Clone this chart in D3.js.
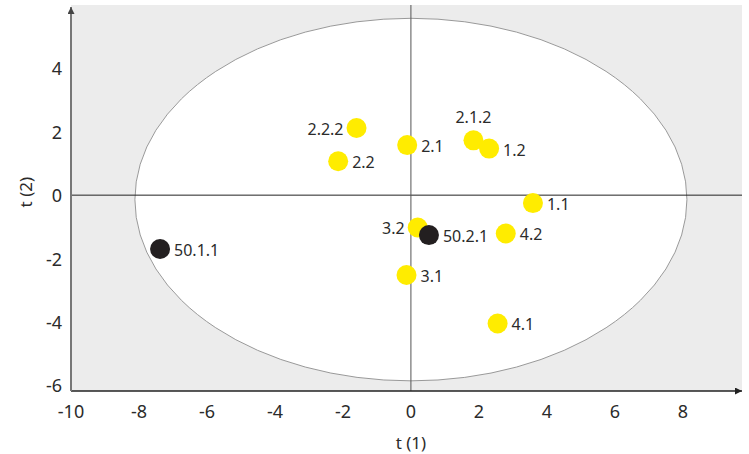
<!DOCTYPE html>
<html>
<head>
<meta charset="utf-8">
<script src="https://cdn.jsdelivr.net/npm/d3@7"></script>
<style>
  body { margin: 0; background: #fff; }
  text { font-family: "Noto Sans", "Open Sans", sans-serif; fill: #2b2b2b; }
</style>
</head>
<body>
<div id="chart"></div>
<script>
const width = 749
const height = 454

// score plot data
const names = ["2.2.2", "2.2", "2.1", "2.1.2", "1.2", "1.1", "3.2", "50.2.1", "4.2", "3.1", "4.1", "50.1.1"]
const t1 = [-1.6, -2.14, -0.11, 1.84, 2.30, 3.59, 0.2, 0.53, 2.79, -0.13, 2.55, -7.38]
const t2 = [2.12, 1.07, 1.58, 1.73, 1.47, -0.25, -1.02, -1.26, -1.21, -2.52, -4.05, -1.70]
const groups = ["s", "s", "s", "s", "s", "s", "s", "c", "s", "s", "s", "c"]
const labelSide = ["left", "right", "right", "top", "right", "right", "left", "right", "right", "right", "right", "right"]

const xTicks = [-10, -8, -6, -4, -2, 0, 2, 4, 6, 8]
const yTicks = [-6, -4, -2, 0, 2, 4]

// Hotelling ellipse
const ellipse = { cx: 0, cy: -0.14, rx: 8.12, ry: 5.72 }

const margin = { left: 71, right: 7, top: 5, bottom: 63 }

const x = d3.scaleLinear().domain([-10, 9.74]).range([margin.left, width - margin.right])
const y = d3.scaleLinear().domain([-6.18, 6]).range([height - margin.bottom, margin.top])

const svg = d3.select("#chart").append("svg").attr("width", width).attr("height", height)

const defs = svg.append("defs")
defs.append("marker").attr("id", "arrowX").attr("viewBox", "0 0 10 10")
    .attr("refX", 10).attr("refY", 5).attr("markerWidth", 10).attr("markerHeight", 7)
    .attr("markerUnits", "userSpaceOnUse").attr("orient", "auto")
    .append("path").attr("d", "M0,0L10,5L0,10Z").attr("fill", "#222")
defs.append("marker").attr("id", "arrowY").attr("viewBox", "0 0 10 10")
    .attr("refX", 10).attr("refY", 5).attr("markerWidth", 12).attr("markerHeight", 7)
    .attr("markerUnits", "userSpaceOnUse").attr("orient", "auto")
    .append("path").attr("d", "M0,0L10,5L0,10Z").attr("fill", "#444")

// background
svg.append("rect")
    .attr("x", x(-10)).attr("y", y(6))
    .attr("width", x(9.74) - x(-10)).attr("height", y(-6.18) - y(6))
    .attr("fill", "#ececec")

svg.append("ellipse")
    .attr("cx", x(ellipse.cx)).attr("cy", y(ellipse.cy))
    .attr("rx", x(ellipse.rx) - x(0)).attr("ry", y(0) - y(ellipse.ry))
    .attr("fill", "#fff").attr("stroke", "#999").attr("stroke-width", 1)

// zero lines
svg.append("line")
    .attr("x1", x(-10)).attr("x2", x(9.74)).attr("y1", y(0)).attr("y2", y(0))
    .attr("stroke", "#222").attr("stroke-width", 1)
svg.append("line")
    .attr("x1", x(0)).attr("x2", x(0)).attr("y1", y(6)).attr("y2", y(-6.18))
    .attr("stroke", "#555").attr("stroke-width", 1)

// axes
svg.append("line")
    .attr("x1", x(-10)).attr("x2", x(9.74)).attr("y1", y(-6.18)).attr("y2", y(-6.18))
    .attr("stroke", "#222").attr("stroke-width", 1.5)
    .attr("marker-end", "url(#arrowX)")
svg.append("line")
    .attr("x1", x(-10)).attr("x2", x(-10)).attr("y1", y(-6.18)).attr("y2", y(6) + 2)
    .attr("stroke", "#777").attr("stroke-width", 2)
    .attr("marker-end", "url(#arrowY)")

svg.selectAll(".xt").data(xTicks).join("text")
    .attr("class", "xt")
    .attr("x", d => x(d)).attr("y", 411)
    .attr("text-anchor", "middle").attr("dominant-baseline", "central")
    .style("font-size", "18px")
    .text(d => d)

svg.selectAll(".yt").data(yTicks).join("text")
    .attr("class", "yt")
    .attr("x", 62).attr("y", d => y(d))
    .attr("text-anchor", "end").attr("dominant-baseline", "central")
    .style("font-size", "18px")
    .text(d => d)

svg.append("text")
    .attr("x", x(0)).attr("y", 442)
    .attr("text-anchor", "middle").attr("dominant-baseline", "central")
    .style("font-size", "17px")
    .text("t (1)")

svg.append("text")
    .attr("transform", `translate(25,${y(0) - 3}) rotate(-90)`)
    .attr("text-anchor", "middle").attr("dominant-baseline", "central")
    .style("font-size", "17px")
    .text("t (2)")

const data = names.map((n, i) => ({ name: n, t1: t1[i], t2: t2[i], g: groups[i], side: labelSide[i] }))

svg.selectAll(".pt").data(data).join("circle")
    .attr("class", "pt")
    .attr("cx", d => x(d.t1)).attr("cy", d => y(d.t2))
    .attr("r", 10)
    .attr("fill", d => d.g === "c" ? "#231f20" : "#ffec00")

svg.selectAll(".lbl").data(data).join("text")
    .attr("class", "lbl")
    .attr("x", d => d.side === "left" ? x(d.t1) - 13 : d.side === "top" ? x(d.t1) : x(d.t1) + 14)
    .attr("y", d => d.side === "top" ? y(d.t2) - 23 : y(d.t2) + 1)
    .attr("text-anchor", d => d.side === "left" ? "end" : d.side === "top" ? "middle" : "start")
    .attr("dominant-baseline", "central")
    .style("font-size", "16px")
    .text(d => d.name)
</script>
</body>
</html>
